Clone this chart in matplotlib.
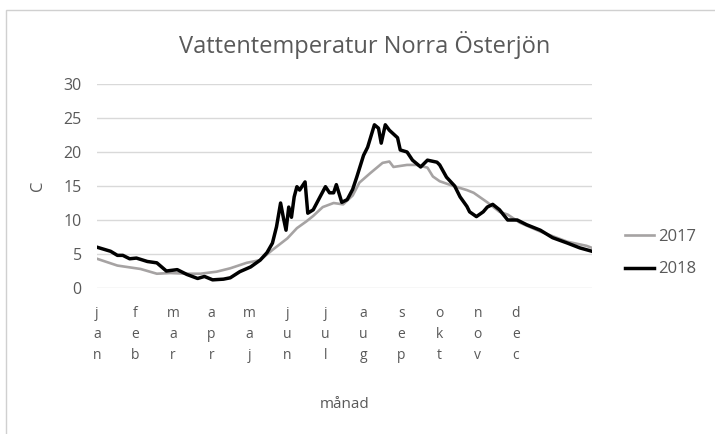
import matplotlib
matplotlib.use("Agg")
import matplotlib.pyplot as plt
from matplotlib.patches import Rectangle

# ---- data (day of year, temperature C) ----
days_2018 = [0, 10, 15, 19, 24, 29, 37, 44, 51, 59, 66, 74, 79, 85, 93, 98, 105, 113, 120, 125,
             129, 132, 135, 137, 139, 141, 143, 145, 147, 149, 153, 155, 159, 164, 168, 171, 174,
             176, 180, 184, 188, 191, 196, 199, 204, 207, 209, 212, 215, 221, 223, 228, 232, 238,
             243, 250, 252, 257, 263, 267, 272, 274, 279, 284, 287, 291, 296, 302, 309, 316, 326,
             335, 346, 355, 364]
temp_2018 = [6.0, 5.4, 4.8, 4.8, 4.3, 4.4, 3.9, 3.7, 2.5, 2.7, 2.0, 1.4, 1.7, 1.2, 1.3, 1.5, 2.4,
             3.1, 4.1, 5.2, 6.6, 9.0, 12.5, 10.4, 8.5, 11.9, 10.4, 13.4, 14.9, 14.4, 15.6, 11.0,
             11.5, 13.4, 14.9, 14.0, 14.0, 15.2, 12.6, 13.0, 14.5, 16.3, 19.5, 20.7, 24.0, 23.5,
             21.3, 24.0, 23.2, 22.1, 20.3, 20.0, 18.8, 17.8, 18.8, 18.5, 18.1, 16.3, 15.0, 13.4,
             12.0, 11.2, 10.5, 11.2, 11.9, 12.3, 11.5, 10.0, 10.0, 9.3, 8.5, 7.4, 6.6, 5.9, 5.4]

days_2017 = [0, 15, 32, 44, 54, 66, 76, 88, 98, 110, 120, 129, 140, 147, 154, 159, 166, 174, 181,
             188, 193, 201, 210, 215, 218, 228, 235, 243, 247, 252, 262, 272, 277, 287, 296, 302,
             311, 326, 346, 360, 364]
temp_2017 = [4.3, 3.3, 2.8, 2.1, 2.2, 2.1, 2.1, 2.4, 2.9, 3.7, 4.1, 5.6, 7.3, 8.8, 9.8, 10.6, 11.9,
             12.5, 12.3, 13.6, 15.5, 16.9, 18.4, 18.6, 17.8, 18.1, 18.1, 17.7, 16.4, 15.7, 15.0,
             14.4, 14.0, 12.6, 11.2, 10.8, 9.6, 8.3, 6.8, 6.2, 5.9]

month_labels = ["jan", "feb", "mar", "apr", "maj", "jun", "jul", "aug", "sep", "okt", "nov", "dec"]
month_ticks = [0, 28, 56, 84, 112, 140, 168, 196, 224, 252, 280, 308]
y_ticks = [0, 5, 10, 15, 20, 25, 30]

title = "Vattentemperatur Norra Österjön"
txt = "#595959"
grid = "#d9d9d9"
plt.rcParams['font.family'] = ['Open Sans', 'DejaVu Sans']

fig = plt.figure(figsize=(7.15, 4.34), dpi=100)
fig.patches.append(Rectangle((6/715, -0.1), 1.2, 1 - 10/434 + 0.1, transform=fig.transFigure,
                             fill=False, edgecolor="#d0d0d0", linewidth=1.0))
ax = fig.add_axes([97/715, (434-288)/434, 495/715, 204/434])

ax.plot(days_2017, temp_2017, color="#a6a3a3", linewidth=1.9, label="2017")
ax.plot(days_2018, temp_2018, color="black", linewidth=2.5, label="2018")

ax.set_xlim(0, 364)
ax.set_ylim(0, 30)
ax.set_yticks(y_ticks)
ax.set_yticklabels([str(v) for v in y_ticks], color=txt, fontsize=11.5)
ax.set_xticks(month_ticks)
ax.set_xticklabels(["\n".join(m) for m in month_labels], color=txt, fontsize=10, linespacing=1.56)
ax.tick_params(axis='y', length=0, pad=11)
ax.tick_params(axis='x', length=0, pad=13)
ax.grid(axis='y', color=grid, linewidth=1)
for s in ax.spines.values():
    s.set_visible(False)
ax.set_axisbelow(True)

fig.text(38/715, 1 - 186/434, "C", color=txt, fontsize=12, rotation=90, ha='center', va='center')
fig.text(345/715, 1 - 405/434, "månad", color=txt, fontsize=11, ha='center', va='center')
fig.text(365/715, 1 - 45/434, title, color=txt, fontsize=17, ha='center', va='center')

ax.legend(loc='center left', bbox_to_anchor=((625 - 97)/495, (288 - 253)/204), frameon=False,
          fontsize=12, labelcolor=txt, handlelength=1.75, handletextpad=0.25, labelspacing=1.0,
          borderaxespad=0, borderpad=0)

fig.savefig("out.png", dpi=100)
